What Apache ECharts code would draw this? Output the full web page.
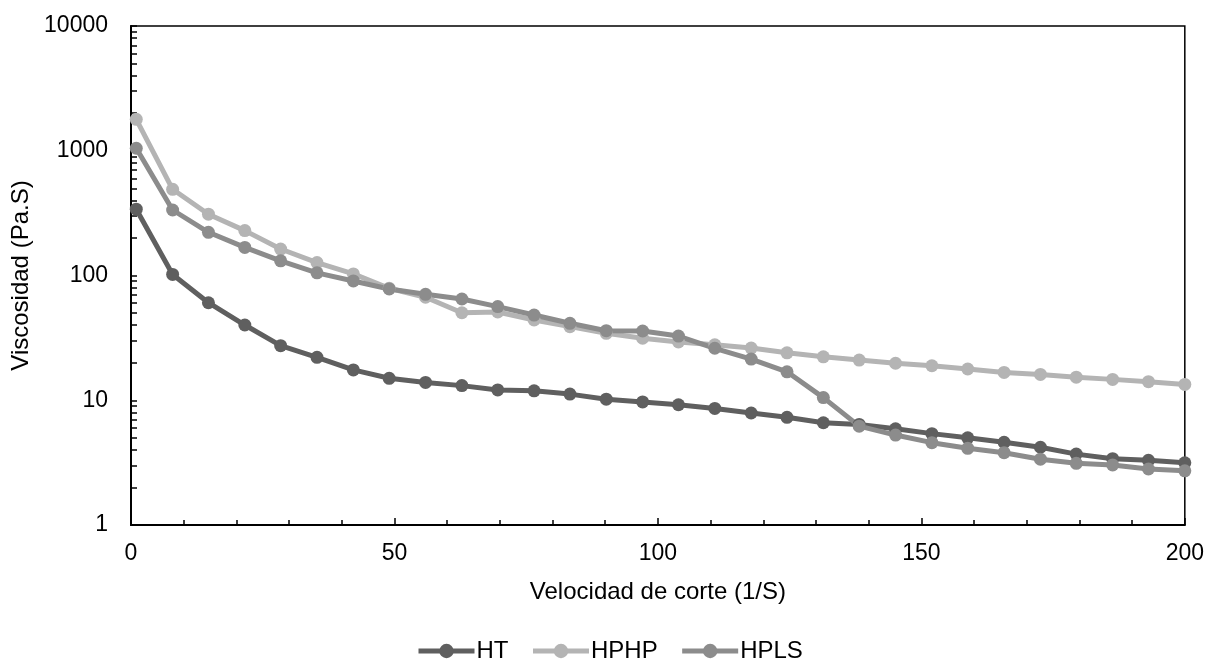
<!DOCTYPE html>
<html>
<head>
<meta charset="utf-8">
<script src="https://cdn.jsdelivr.net/npm/echarts@6/dist/echarts.min.js"></script>
<style>
html,body{margin:0;padding:0;background:#fff;}
#c{width:1207px;height:664px;}
</style>
</head>
<body>
<div id="c"></div>
<script>
var shearRates = [1, 7.9, 14.7, 21.6, 28.4, 35.3, 42.2, 49, 55.9, 62.8, 69.6, 76.5, 83.3, 90.2, 97.1, 103.9, 110.8, 117.7, 124.5, 131.4, 138.2, 145.1, 152, 158.8, 165.7, 172.6, 179.4, 186.3, 193.1, 200];
var htValues = [340, 102, 60.5, 40.1, 27.4, 22.1, 17.5, 15.0, 13.9, 13.1, 12.1, 11.9, 11.2, 10.2, 9.7, 9.2, 8.6, 7.9, 7.3, 6.6, 6.4, 5.9, 5.4, 5.0, 4.6, 4.2, 3.7, 3.4, 3.3, 3.15];
var hphpValues = [1787, 491, 310, 229, 163, 127, 103, 79, 67, 50.3, 51, 44, 38.9, 34.4, 31.4, 29.3, 27.8, 26.2, 24.0, 22.3, 21.0, 19.8, 18.9, 17.8, 16.7, 16.1, 15.3, 14.7, 14.1, 13.4];
var hplsValues = [1047, 335, 222, 168, 131, 105, 90.4, 78, 70.7, 64.8, 56.3, 48.2, 41.4, 36.1, 35.9, 32.7, 26.1, 21.4, 16.9, 10.5, 6.2, 5.26, 4.57, 4.12, 3.80, 3.37, 3.12, 3.03, 2.81, 2.72];
var seriesNames = ['HT', 'HPHP', 'HPLS'];
var yLabelValues = [1, 10, 100, 1000, 10000];
var yTickValues = [1,2,3,4,5,6,7,8,9,10,20,30,40,50,60,70,80,90,100,200,300,400,500,600,700,800,900,1000,2000,3000,4000,5000,6000,7000,8000,9000,10000];

function pairs(vals){ return shearRates.map(function(x,i){ return [x, vals[i]]; }); }
var colors = ['#5f5f5f', '#b4b4b4', '#8c8c8c'];
var allValues = [htValues, hphpValues, hplsValues];
var font = 'Liberation Sans, Arial, sans-serif';

var chart = echarts.init(document.getElementById('c'));
chart.setOption({
  animation: false,
  grid: {left: 131, right: 22, top: 26, bottom: 139, show: true, borderColor: '#000', borderWidth: 1.5, containLabel: false},
  legend: {
    data: seriesNames,
    top: 634, left: 411,
    itemWidth: 56, itemHeight: 18, itemGap: 22,
    lineStyle: {width: 5},
    textStyle: {fontFamily: font, fontSize: 24, color: '#000', padding: [0,0,0,-3]}
  },
  xAxis: {
    type: 'value', min: 0, max: 200, interval: 50,
    name: 'Velocidad de corte (1/S)', nameLocation: 'middle', nameGap: 55,
    nameTextStyle: {fontFamily: font, fontSize: 24, color: '#000'},
    axisLine: {show: true, lineStyle: {color: '#000', width: 2}},
    axisTick: {show: true, inside: true, length: 7, lineStyle: {color: '#000', width: 1.5}},
    minorTick: {show: true, splitNumber: 5, length: 5, lineStyle: {color: '#000', width: 1.5}},
    splitLine: {show: false},
    axisLabel: {fontFamily: font, fontSize: 23, color: '#000', margin: 17}
  },
  yAxis: {
    type: 'log', logBase: 10, min: 1, max: 10000,
    name: 'Viscosidad (Pa.S)', nameLocation: 'middle', nameGap: 96, nameRotate: 90,
    nameTextStyle: {fontFamily: font, fontSize: 24, color: '#000'},
    axisLine: {show: true, lineStyle: {color: '#000', width: 2}},
    axisTick: {show: true, inside: true, length: 6, customValues: yTickValues, lineStyle: {color: '#000', width: 1.5}},
    splitLine: {show: false},
    axisLabel: {fontFamily: font, fontSize: 23, color: '#000', margin: 23, customValues: yLabelValues,
      formatter: function(v){ return String(Math.round(v)); }}
  },
  series: seriesNames.map(function(n, i){
    return {
      name: n, type: 'line', data: pairs(allValues[i]),
      symbol: 'circle', symbolSize: 13, showSymbol: true,
      lineStyle: {color: colors[i], width: 5},
      itemStyle: {color: colors[i]}
    };
  })
});
</script>
</body>
</html>
